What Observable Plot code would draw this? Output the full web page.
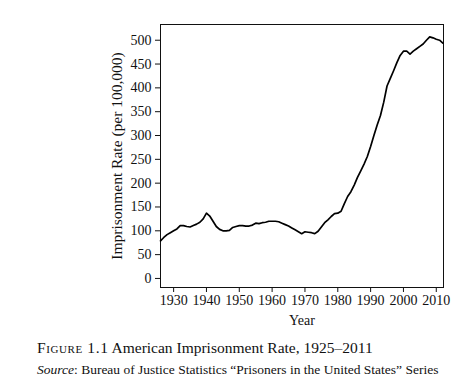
<!DOCTYPE html>
<html>
<head>
<meta charset="utf-8">
<script src="https://cdn.jsdelivr.net/npm/d3@7"></script>
<script src="https://cdn.jsdelivr.net/npm/@observablehq/plot@0.6"></script>
<style>
  html, body { margin: 0; padding: 0; background: #fff; }
  #wrap { position: relative; width: 468px; height: 388px; font-family: "Liberation Serif", "DejaVu Serif", serif; color: #111; }
  #chart { position: absolute; left: 0; top: 0; }
  .cap { position: absolute; left: 37px; white-space: nowrap; }
  #title { top: 339px; font-size: 15.5px; }
  #title .fig { font-variant: small-caps; letter-spacing: 0.6px; }
  #source { top: 362px; font-size: 13.5px; }
</style>
</head>
<body>
<div id="wrap">
  <div id="chart"></div>
  <div class="cap" id="title"><span class="fig">Figure 1.1</span> American Imprisonment Rate, 1925–2011</div>
  <div class="cap" id="source"><i>Source</i>: Bureau of Justice Statistics “Prisoners in the United States” Series</div>
</div>
<script>
const years = [
  1926, 1927, 1928, 1929, 1930, 1931, 1932, 1933, 1934, 1935,
  1936, 1937, 1938, 1939, 1940, 1941, 1942, 1943, 1944, 1945,
  1946, 1947, 1948, 1949, 1950, 1951, 1952, 1953, 1954, 1955,
  1956, 1957, 1958, 1959, 1960, 1961, 1962, 1963, 1964, 1965,
  1966, 1967, 1968, 1969, 1970, 1971, 1972, 1973, 1974, 1975,
  1976, 1977, 1978, 1979, 1980, 1981, 1982, 1983, 1984, 1985,
  1986, 1987, 1988, 1989, 1990, 1991, 1992, 1993, 1994, 1995,
  1996, 1997, 1998, 1999, 2000, 2001, 2002, 2003, 2004, 2005,
  2006, 2007, 2008, 2009, 2010, 2011, 2012
];
const rates = [
  79, 86, 92, 96, 100, 104, 111, 111, 109, 108,
  111, 114, 118, 125, 137, 131, 120, 109, 103, 100,
  100, 101, 107, 109, 111, 111, 110, 110, 112, 116,
  115, 117, 118, 120, 120, 120, 119, 116, 113, 110,
  106, 102, 98, 94, 98, 97, 96, 94, 99, 108,
  117, 123, 130, 136, 137, 141, 157, 172, 182, 196,
  212, 226, 240, 256, 277, 300, 322, 342, 370, 404,
  420, 436, 453, 468, 477, 477, 471, 477, 482, 487,
  492, 500, 507, 505, 502, 500, 494
];
const xTicks = [1930, 1940, 1950, 1960, 1970, 1980, 1990, 2000, 2010];
const yTicks = [0, 50, 100, 150, 200, 250, 300, 350, 400, 450, 500];

const data = years.map((y, i) => ({year: y, rate: rates[i]}));

const chart = Plot.plot({
  width: 468,
  height: 335,
  marginLeft: 160,
  marginRight: 25,
  marginTop: 24,
  marginBottom: 48,
  style: {fontFamily: "Liberation Serif", fontSize: "14px", color: "#111", background: "#fff"},
  x: {domain: [1926, 2012.2]},
  y: {domain: [-19, 533]},
  marks: [
    Plot.axisX({ticks: xTicks, tickFormat: d => String(d), tickSize: 5, tickPadding: 3, label: null, fontSize: "14px"}),
    Plot.axisX({ticks: [], tickSize: 0, label: "Year", labelAnchor: "center", labelArrow: "none", labelOffset: 37, fontSize: "14px"}),
    Plot.axisY({ticks: yTicks, tickSize: 5, tickPadding: 4, label: null, fontSize: "14px"}),
    Plot.axisY({ticks: [], tickSize: 0, label: "Imprisonment Rate (per 100,000)", labelAnchor: "center", labelArrow: "none", labelOffset: 50, fontSize: "15.5px"}),
    Plot.frame({stroke: "#111", strokeWidth: 1}),
    Plot.line(data, {x: "year", y: "rate", stroke: "#000", strokeWidth: 1.7})
  ]
});
document.getElementById("chart").appendChild(chart);
</script>
</body>
</html>
